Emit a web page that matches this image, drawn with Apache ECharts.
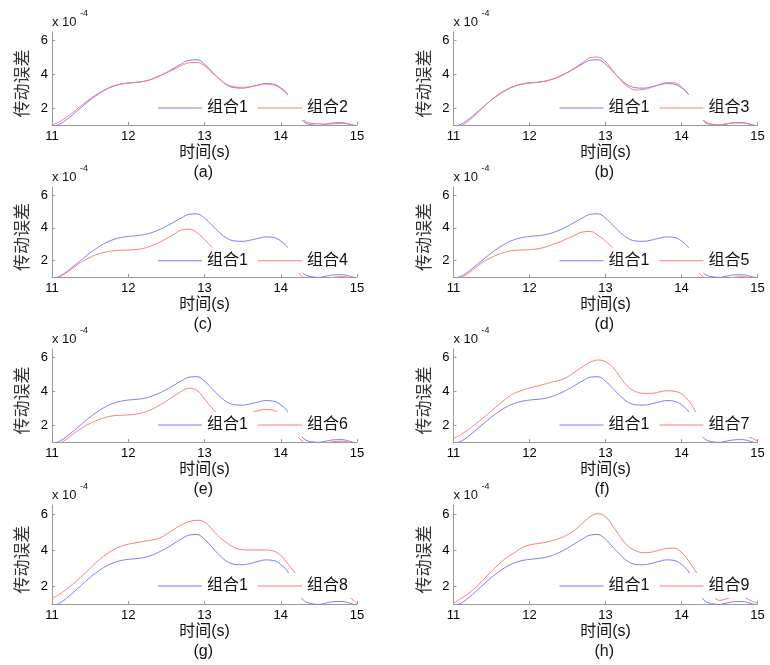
<!DOCTYPE html>
<html><head><meta charset="utf-8">
<script src="https://cdn.jsdelivr.net/npm/echarts@6/dist/echarts.min.js"></script>
<style>html,body{margin:0;padding:0;background:#fff}#c{width:770px;height:665px}</style>
</head><body><div id="c"></div><script>
// time (s)
const xs = [11.0,11.1,11.2,11.3,11.4,11.5,11.6,11.7,11.8,11.9,12.0,12.1,12.2,12.3,12.4,12.5,12.6,12.7,12.8,12.9,13.0,13.1,13.2,13.3,13.4,13.5,13.6,13.7,13.8,13.9,14.0,14.1,14.2,14.3,14.4,14.5,14.6,14.7,14.8,14.9,15.0];
// transmission error (x 1e-4)
const g1 = [0.9,1.05,1.35,1.72,2.1,2.48,2.8,3.08,3.28,3.41,3.48,3.52,3.58,3.7,3.88,4.1,4.36,4.62,4.83,4.86,4.6,4.15,3.7,3.35,3.2,3.18,3.25,3.36,3.45,3.42,3.2,2.75,1.85,1.2,1.02,0.98,1.06,1.13,1.14,1.05,0.92];
const g2 = [1.0,1.2,1.5,1.85,2.2,2.55,2.85,3.1,3.3,3.42,3.48,3.52,3.58,3.7,3.88,4.08,4.3,4.52,4.68,4.7,4.5,4.1,3.7,3.38,3.25,3.23,3.27,3.35,3.42,3.38,3.15,2.72,1.9,1.3,1.1,1.08,1.05,1.07,1.1,1.05,0.95];
const g3 = [0.8,0.95,1.25,1.65,2.08,2.5,2.84,3.1,3.3,3.43,3.5,3.53,3.6,3.72,3.9,4.12,4.4,4.7,4.98,5.02,4.75,4.2,3.65,3.25,3.07,3.1,3.22,3.38,3.5,3.5,3.25,2.75,1.9,1.25,1.05,1.02,1.08,1.12,1.12,1.05,0.92];
const g4 = [0.7,1.0,1.3,1.62,1.95,2.2,2.4,2.52,2.6,2.63,2.65,2.68,2.75,2.9,3.1,3.35,3.6,3.88,3.92,3.72,3.3,2.8,2.4,2.2,2.12,2.15,2.25,2.35,2.42,2.35,2.15,1.8,1.45,0.95,0.8,0.8,0.9,0.98,1.02,0.95,0.85];
const g5 = [0.65,0.95,1.25,1.6,1.95,2.2,2.4,2.55,2.62,2.65,2.67,2.72,2.82,2.98,3.15,3.35,3.55,3.75,3.78,3.55,3.2,2.75,2.35,2.15,2.08,2.1,2.2,2.3,2.38,2.3,2.1,1.75,1.4,0.95,0.8,0.8,0.9,0.98,1.02,0.95,0.85];
const g6 = [0.6,0.9,1.2,1.55,1.85,2.1,2.3,2.45,2.55,2.58,2.6,2.65,2.75,2.92,3.15,3.42,3.72,4.0,4.18,4.05,3.55,3.0,2.6,2.45,2.45,2.55,2.7,2.85,2.92,2.88,2.6,2.1,1.45,1.0,0.85,0.85,0.95,1.02,1.05,0.98,0.88];
const g7 = [1.2,1.45,1.75,2.1,2.45,2.85,3.22,3.6,3.88,4.05,4.2,4.3,4.42,4.55,4.65,4.85,5.15,5.45,5.72,5.85,5.75,5.4,4.8,4.25,3.98,3.88,3.88,3.95,4.03,4.0,3.85,3.4,2.7,2.0,1.6,1.38,1.4,1.42,1.38,1.28,1.05];
const g8 = [1.3,1.55,1.85,2.2,2.58,2.98,3.38,3.72,4.0,4.2,4.32,4.4,4.48,4.55,4.65,4.88,5.15,5.4,5.58,5.65,5.55,5.15,4.7,4.38,4.12,4.02,4.0,4.0,4.0,3.95,3.7,3.2,2.65,2.0,1.6,1.5,1.5,1.55,1.55,1.4,1.0];
const g9 = [1.05,1.3,1.6,1.95,2.38,2.82,3.22,3.58,3.85,4.12,4.28,4.35,4.42,4.52,4.65,4.85,5.12,5.5,5.85,6.02,5.85,5.3,4.7,4.2,3.95,3.85,3.88,3.98,4.08,4.1,3.87,3.35,2.72,2.0,1.5,1.2,1.3,1.4,1.4,1.2,1.05];
const redSeries = [g2, g3, g4, g5, g6, g7, g8, g9];
const groupNames = ['组合1','组合2','组合3','组合4','组合5','组合6','组合7','组合8','组合9'];
const panelLetters = ['(a)','(b)','(c)','(d)','(e)','(f)','(g)','(h)'];
const xTicks = [11, 12, 13, 14, 15];
const yTicks = [2, 4, 6];
const yRange = [1, 6.5];
const xName = '时间(s)';
const yName = '传动误差';
const scaleText = 'x 10';
const scaleExp = '-4';

// layout
const colLeft = [52, 453.5];
const colWidth = [305, 304];
const rowTop = [32, 187, 349, 505];
const rowHeight = [93, 90, 93, 99];
const FONT = "'Liberation Sans', Arial, 'Noto Sans CJK SC', sans-serif";
const BLUE = '#7a7aff';
const RED = '#ff7a7a';
const AX = '#9a9a9a';

const grid = [], xAxis = [], yAxis = [], series = [], legend = [], graphic = [];
for (let i = 0; i < 8; i++) {
  const c = i % 2, r = Math.floor(i / 2);
  const L = colLeft[c], W = colWidth[c], T = rowTop[r], H = rowHeight[r];
  grid.push({left: L, top: T, width: W, height: H, containLabel: false});
  xAxis.push({
    type: 'value', gridIndex: i, min: xTicks[0], max: xTicks[xTicks.length - 1], interval: 1,
    axisLine: {show: true, onZero: false, lineStyle: {color: AX, width: 1}},
    axisTick: {show: true, inside: true, length: 3, lineStyle: {color: AX}},
    axisLabel: {color: '#000', fontSize: 13, fontFamily: FONT, margin: 5},
    splitLine: {show: false},
    name: xName, nameLocation: 'middle', nameGap: 20,
    nameTextStyle: {color: '#111', fontSize: 16, fontFamily: FONT}
  });
  yAxis.push({
    type: 'value', gridIndex: i, min: yRange[0], max: yRange[1],
    axisLine: {show: true, onZero: false, lineStyle: {color: AX, width: 1}},
    axisTick: {show: true, inside: true, length: 3, lineStyle: {color: AX}, customValues: yTicks},
    axisLabel: {color: '#000', fontSize: 13, fontFamily: FONT, margin: 4, customValues: yTicks},
    splitLine: {show: false},
    name: yName, nameLocation: 'middle', nameRotate: 90, nameGap: 20,
    nameTextStyle: {color: '#333', fontSize: 17, fontFamily: FONT, padding: [0, 10, 0, 0]}
  });
  series.push({
    type: 'line', name: groupNames[0], xAxisIndex: i, yAxisIndex: i,
    data: xs.map((x, k) => [x, g1[k]]), symbol: 'none', smooth: 0.4,
    lineStyle: {color: BLUE, width: 1}, itemStyle: {color: BLUE}, clip: true, z: 2
  });
  series.push({
    type: 'line', name: groupNames[i + 1], xAxisIndex: i, yAxisIndex: i,
    data: xs.map((x, k) => [x, redSeries[i][k]]), symbol: 'none', smooth: 0.4,
    lineStyle: {color: RED, width: 1}, itemStyle: {color: RED}, clip: true, z: 2
  });
  const y2 = T + H * (yRange[1] - 2) / (yRange[1] - yRange[0]);
  legend.push({
    data: [groupNames[0], groupNames[i + 1]],
    left: L + 100, top: y2 - 13, orient: 'horizontal',
    icon: 'rect', itemWidth: 44, itemHeight: 1, itemGap: 10,
    padding: [5, 8, 4, 6], backgroundColor: '#fff',
    textStyle: {color: '#111', fontSize: 16, fontFamily: FONT},
    selectedMode: false
  });
  graphic.push({type: 'text', left: L, top: T - 16, style: {text: scaleText, fontSize: 13, fontFamily: FONT, fill: '#111'}});
  graphic.push({type: 'text', left: L + 28, top: T - 23, style: {text: scaleExp, fontSize: 9, fontFamily: FONT, fill: '#111'}});
  graphic.push({type: 'text', left: L + W / 2 - 11, top: T + H + 40, style: {text: panelLetters[i], fontSize: 16, fontFamily: FONT, fill: '#111'}});
}

const chart = echarts.init(document.getElementById('c'), null, {renderer: 'canvas'});
chart.setOption({animation: false, backgroundColor: '#fff', grid, xAxis, yAxis, series, legend, graphic});
</script></body></html>
